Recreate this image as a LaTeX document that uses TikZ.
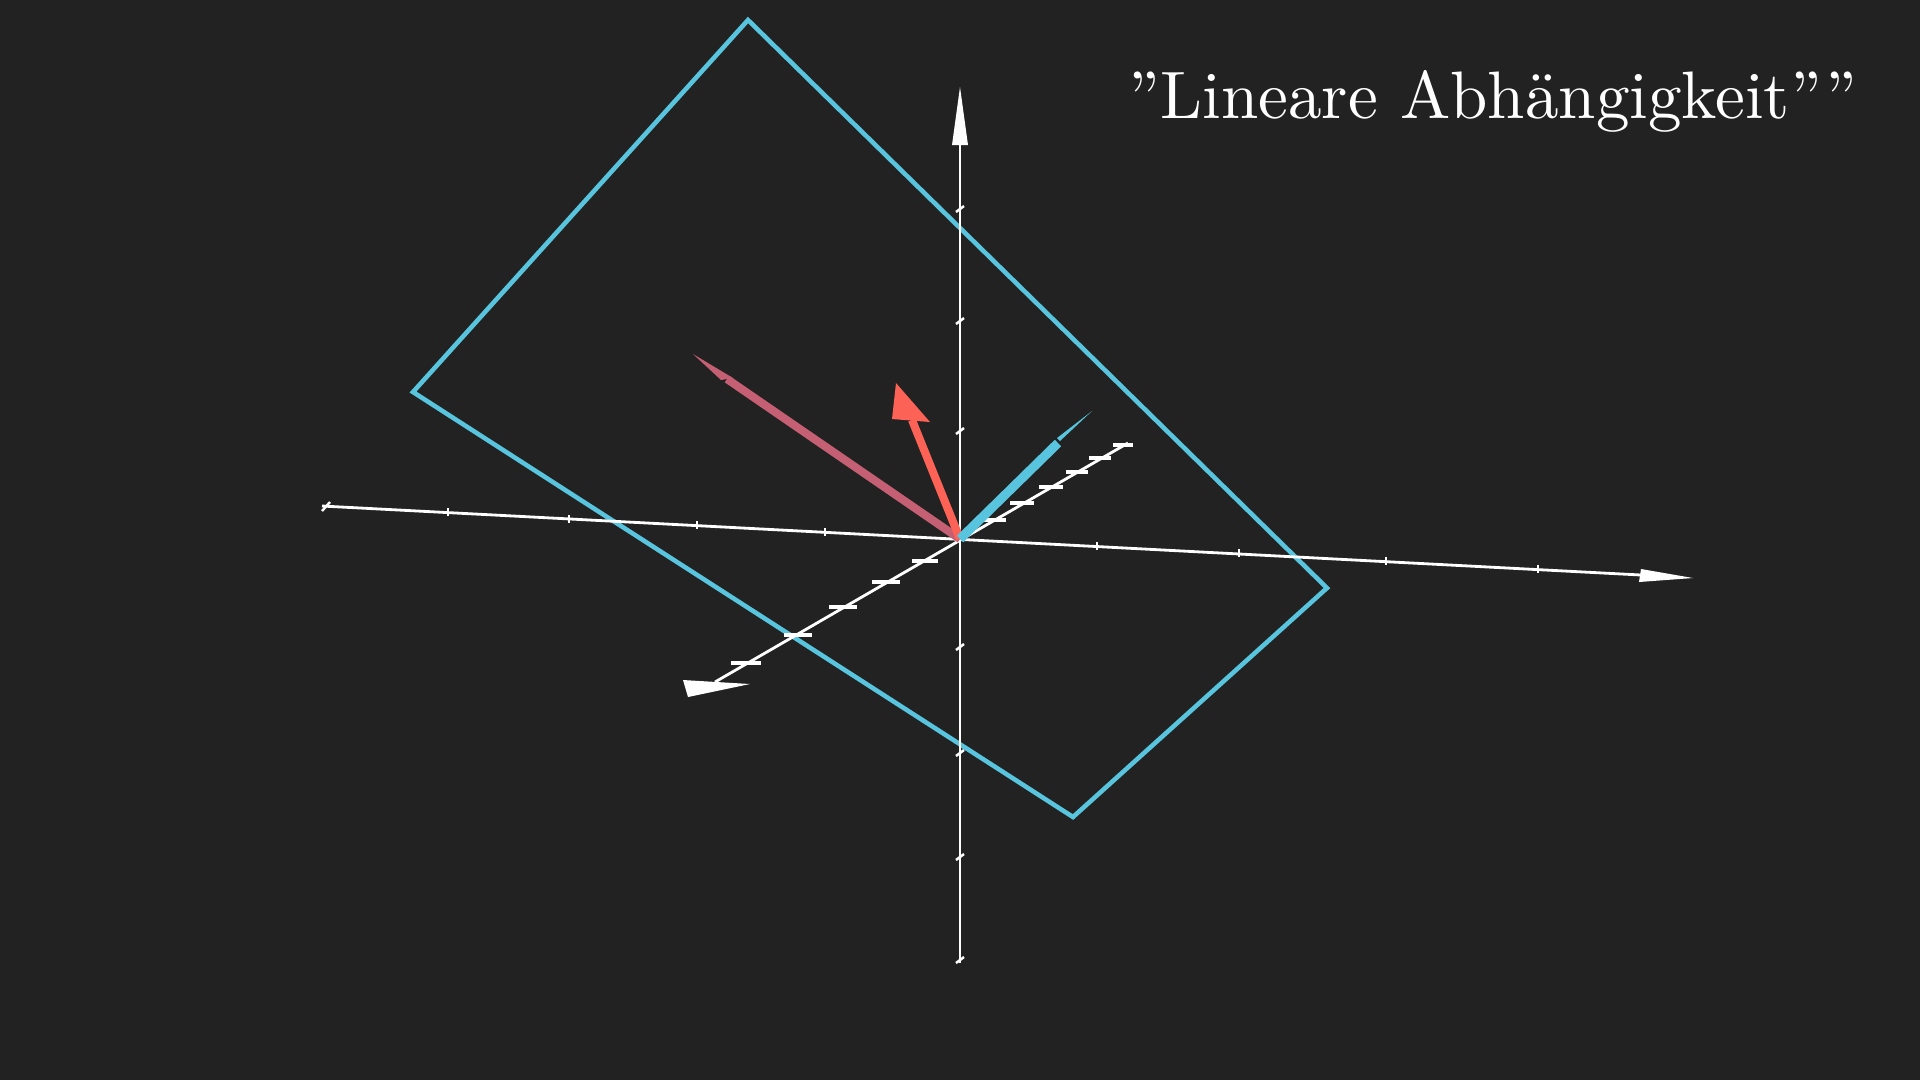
\documentclass[tikz,border=0pt]{standalone}
\usepackage{fontspec}
\setmainfont{Latin Modern Roman}
\newfontfamily\titlefont{lmroman10-regular.otf}
\definecolor{bgc}{HTML}{222222}
\definecolor{mblue}{HTML}{58C4DD}
\definecolor{mred}{HTML}{FC6255}
\definecolor{mmaroon}{HTML}{C55F73}
\tikzset{
  axisline/.style={white, line width=0.8pt},
  axishead/.style={fill=white, draw=none},
  tickmark/.style={white, line width=0.7pt},
  ztick/.style={white, line width=0.9pt},
  planeedge/.style={mblue, line width=1.3pt, line join=miter},
  vecshaft/.style={line width=2.3pt, line cap=butt},
}
\begin{document}
\begin{tikzpicture}[x=0.1mm, y=-0.1mm]
\fill[bgc] (0,0) rectangle (1920,1080);
\useasboundingbox (0,0) rectangle (1920,1080);
\coordinate (O) at (960,539);
% plane
\draw[planeedge] (748,20) -- (1327,588) -- (1073,817) -- (413,392) -- cycle;
% x axis
\draw[axisline] (322,506) -- (1641,575);
\fill[axishead] (1693,578) -- (1641,569) -- (1639,582) -- cycle;
\foreach \x in {448,569,697,825,1097,1239,1386,1538}{
  \pgfmathsetmacro{\yy}{539+(\x-960)*0.0518}
  \draw[tickmark] (\x,\yy-4) -- (\x,\yy+4);
}
\draw[tickmark] (322,511) -- (330,502);
% y axis
\draw[axisline] (960,145) -- (960,963);
\fill[axishead] (960,87) -- (952,145) -- (968,145) -- cycle;
\foreach \y in {209,321,431,647,753,857,960}{
  \draw[tickmark] (956,\y+3) -- (964,\y-3);
}
% z axis
\draw[axisline] (1128,443) -- (715,682);
\fill[axishead] (683,680) -- (688,697) -- (750,684) -- cycle;
\foreach \cx/\cy/\w in {1123/445/10,1100/458/11,1077/472/11,1051/487/12,1022/503/12,994/520/12,925/561/13,886/582/14,843/607/14,798/635/14,746/663/15}{
  \draw[ztick] (\cx-\w,\cy) -- (\cx+\w,\cy);
}
% vectors
\draw[vecshaft, mmaroon] (O) -- (727,379);
\fill[mmaroon] (693,354) -- (733,378) -- (721,380) -- cycle;
\draw[vecshaft, mred] (O) -- (912,420);
\fill[mred] (896,383) -- (892,419) -- (930,422) -- cycle;
\draw[vecshaft, mblue, line width=2.6pt] (O) -- (1058,443);
\fill[mblue] (1092,411) -- (1060,441) -- (1057,438) -- cycle;
% title
\node[anchor=base west, inner sep=0pt, text=white, font=\titlefont\fontsize{19.1}{23}\selectfont] (title) at (1128,118) {”Lineare Abhängigkeit””};
\end{tikzpicture}
\end{document}
